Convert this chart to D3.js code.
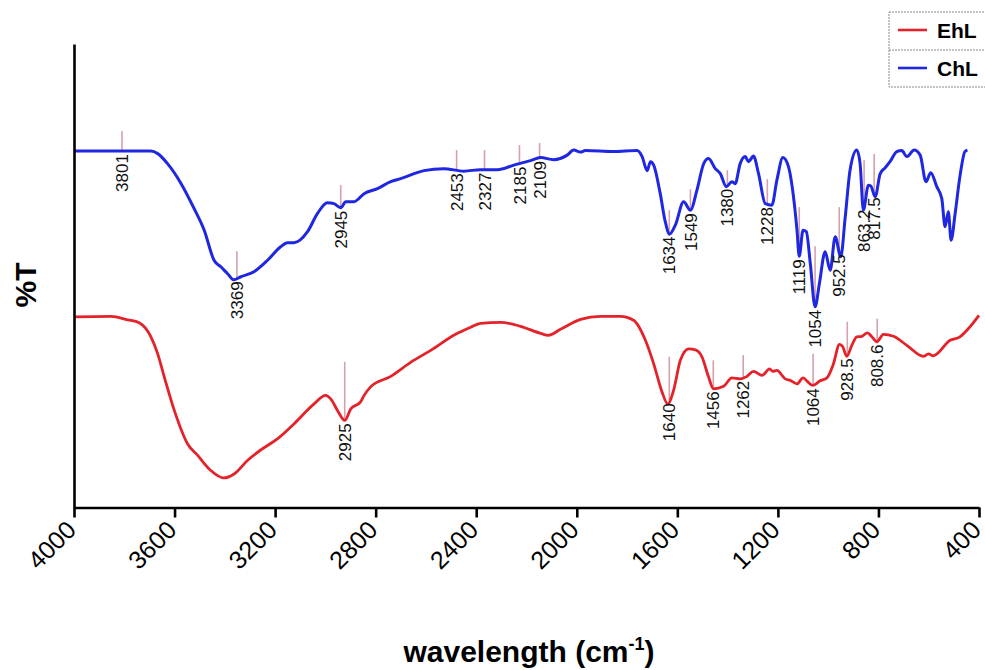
<!DOCTYPE html>
<html><head><meta charset="utf-8">
<script src="https://cdn.jsdelivr.net/npm/d3@7"></script>
<style>body{margin:0;background:#fff} svg{display:block}</style>
</head><body>
<svg id="chart" width="985" height="670"></svg>
<script>
// ---- data ----
const wnTicks = [4000,3600,3200,2800,2400,2000,1600,1200,800,400];
const seriesNames = ["EhL","ChL"];

const chlWn = [4000,3694,3667,3628,3575,3522,3482,3443,3416,3389,3365,3336,3284,3230,3178,3151,3125,3071,3032,2992,2966,2939,2919,2886,2846,2793,2740,2701,2608,2529,2449,2383,2316,2250,2184,2144,2092,2038,2012,1985,1966,1853,1760,1740,1720,1707,1694,1668,1648,1631,1608,1575,1548,1522,1495,1476,1449,1429,1405,1383,1370,1350,1330,1317,1297,1277,1250,1224,1204,1180,1158,1138,1124,1115,1100,1087,1071,1052,1035,1012,992,972,950,932,913,886,873,860,840,830,813,793,773,754,727,707,687,658,634,611,592,568,548,535,522,511,495,476,456,446];
const chlT = [71.2,71.2,70.7,68.7,64.8,59.7,55.4,49.4,48.1,46.7,45.5,46.1,47.1,49.4,52.1,52.9,52.9,55.1,58.7,60.9,60.7,59.9,61.1,61.1,62.7,63.7,65.1,65.7,67.3,67.7,67.2,67.5,67.5,68.4,69.3,69.9,69.5,70.4,71.4,71.0,71.3,71.1,71.3,70.1,67.3,69.1,68.4,62.7,57.1,54.6,56.4,61.1,59.4,63.4,68.7,69.7,67.7,66.7,64.1,65.1,64.7,68.7,70.1,69.1,70.2,66.7,60.7,60.4,65.4,69.9,68.1,62.1,55.4,50.2,55.4,55.1,48.7,40.1,44.7,51.1,47.4,54.1,50.1,58.1,67.4,71.4,68.7,59.4,64.4,64.2,62.1,66.7,67.9,69.1,71.1,71.3,70.1,71.4,70.4,65.1,66.9,64.1,61.7,56.1,59.1,53.4,58.7,66.1,71.1,71.4];

const ehlWn = [4000,3853,3787,3741,3694,3667,3641,3601,3548,3508,3456,3405,3363,3310,3257,3191,3125,3045,2999,2979,2952,2923,2899,2860,2846,2820,2740,2661,2581,2482,2422,2383,2303,2224,2144,2113,2065,1985,1906,1826,1774,1727,1694,1661,1638,1615,1588,1555,1528,1502,1476,1456,1416,1383,1350,1323,1297,1263,1233,1220,1204,1171,1151,1124,1100,1085,1061,1032,1005,979,955,942,926,906,886,866,844,826,806,780,740,687,621,601,582,515,476,436,400];
const ehlT = [38.1,38.2,37.5,36.9,34.1,30.7,26.1,19.4,12.7,10.4,7.4,5.9,6.7,9.4,11.5,13.7,16.7,20.7,22.4,21.7,19.4,17.4,19.7,21.1,22.4,24.1,26.2,29.0,31.4,34.6,36.0,36.8,37.0,36.2,34.8,34.4,35.6,37.6,38.2,38.2,37.4,33.4,28.7,23.1,20.7,23.4,29.4,31.7,31.5,30.1,26.1,23.7,24.2,25.9,25.7,26.2,27.2,26.4,27.7,27.2,27.4,25.7,25.4,24.7,25.9,25.3,24.4,25.3,25.9,28.7,32.6,32.1,30.2,32.4,34.1,34.2,34.9,34.1,33.1,34.6,34.2,32.4,30.2,30.7,30.3,33.4,34.1,36.1,38.4];

const chlPeakLabels = ["3801","3369","2945","2453","2327","2185","2109","1634","1549","1380","1228","1119","1054","952.5","863.2","817.5"];
const chlPeakAt  = [3809,3352,2939,2478,2367,2228,2148,1632,1548,1401,1242,1115,1052,956,857,817];
const chlPeakTop = [75.2,51.2,64.4,71.4,71.4,72.4,72.8,59.4,63.6,67.4,65.6,60.0,52.2,60.0,69.4,70.6];

const ehlPeakLabels = ["2925","1640","1456","1262","1064","928.5","808.6"];
const ehlPeakAt  = [2923,1632,1457,1338,1060,924,805];
const ehlPeakTop = [29.1,30.1,29.4,30.4,30.7,37.1,37.7];

// ---- drawing ----
const FONT = "'Liberation Sans', Arial, Helvetica, sans-serif";
const RED = "#e3222a", BLUE = "#1f27e0", MARK = "#d5a1aa";
const svg = d3.select("#chart");
const x = d3.scaleLinear().domain([4000, 400]).range([74, 979]);
const y = d3.scaleLinear().domain([0, 92.6]).range([507.5, 44]);

const zip = (a, b) => a.map((w, i) => ({w, t: b[i]}));
const chl = zip(chlWn, chlT), ehl = zip(ehlWn, ehlT);

function valueAt(data, w) {
  for (let i = 0; i < data.length - 1; i++) {
    const a = data[i], b = data[i + 1];
    if (w <= a.w && w >= b.w) {
      const f = (a.w - w) / (a.w - b.w);
      return a.t + f * (b.t - a.t);
    }
  }
  return data[data.length - 1].t;
}

const peaks = [
  {data: chl, labels: chlPeakLabels, at: chlPeakAt, top: chlPeakTop},
  {data: ehl, labels: ehlPeakLabels, at: ehlPeakAt, top: ehlPeakTop}
];

// marker lines
const gMarks = svg.append("g");
peaks.forEach(p => {
  p.labels.forEach((lab, i) => {
    const cx = x(p.at[i]);
    const cy = y(valueAt(p.data, p.at[i]));
    gMarks.append("line")
      .attr("x1", cx).attr("x2", cx)
      .attr("y1", y(p.top[i])).attr("y2", cy)
      .attr("stroke", MARK).attr("stroke-width", 1.6);
  });
});

// curves
const line = d3.line().x(d => x(d.w)).y(d => y(d.t)).curve(d3.curveMonotoneX);
svg.append("path").datum(ehl).attr("d", line)
  .attr("fill", "none").attr("stroke", RED).attr("stroke-width", 2.8).attr("stroke-linejoin", "round");
svg.append("path").datum(chl).attr("d", line)
  .attr("fill", "none").attr("stroke", BLUE).attr("stroke-width", 3).attr("stroke-linejoin", "round");

// peak labels
const gLab = svg.append("g");
peaks.forEach(p => {
  p.labels.forEach((lab, i) => {
    const cx = x(p.at[i]);
    const cy = y(valueAt(p.data, p.at[i])) + 3;
    gLab.append("text")
      .attr("transform", `translate(${cx},${cy}) rotate(-90)`)
      .attr("text-anchor", "end").attr("dy", "0.36em")
      .attr("font-family", FONT).attr("font-size", 17).attr("fill", "#111")
      .text(lab);
  });
});

// axes
const xAxis = d3.axisBottom(x).tickValues(wnTicks).tickSize(10).tickSizeOuter(0).tickFormat(d3.format("d"));
const gx = svg.append("g").attr("transform", `translate(0,${y(0)})`).call(xAxis);
gx.select(".domain").attr("stroke", "#000").attr("stroke-width", 2.6);
gx.selectAll(".tick line").attr("stroke", "#000").attr("stroke-width", 2.6);
gx.selectAll(".tick text")
  .attr("font-family", FONT).attr("font-size", 25).attr("fill", "#000")
  .attr("text-anchor", "end").attr("dy", null).attr("y", 0)
  .attr("transform", "translate(3,24) rotate(-45)");

const yAxis = d3.axisLeft(y).tickValues([]).tickSizeOuter(0);
const gy = svg.append("g").attr("transform", `translate(${x(4000)},0)`).call(yAxis);
gy.select(".domain").attr("stroke", "#000").attr("stroke-width", 2.6);

// axis titles
const xt = svg.append("text").attr("x", 529).attr("y", 662)
  .attr("text-anchor", "middle").attr("font-family", FONT)
  .attr("font-weight", "bold").attr("font-size", 30).attr("fill", "#000");
xt.append("tspan").text("wavelength (cm");
xt.append("tspan").attr("font-size", 18).attr("dy", -12).text("-1");
xt.append("tspan").attr("font-size", 30).attr("dy", 12).text(")");

svg.append("text").attr("transform", "translate(36,285) rotate(-90)")
  .attr("text-anchor", "middle").attr("font-family", FONT)
  .attr("font-weight", "bold").attr("font-size", 30).attr("fill", "#000")
  .text("%T");

// legend
const lg = svg.append("g");
lg.append("rect").attr("x", 889).attr("y", 12).attr("width", 110).attr("height", 75)
  .attr("fill", "#fff").attr("stroke", "#888").attr("stroke-width", 1).attr("stroke-dasharray", "2,1");
lg.append("line").attr("x1", 889).attr("x2", 999).attr("y1", 50).attr("y2", 50)
  .attr("stroke", "#888").attr("stroke-width", 1).attr("stroke-dasharray", "2,1");
const legColors = [RED, BLUE];
seriesNames.forEach((name, i) => {
  const cy = 30 + i * 38;
  lg.append("line").attr("x1", 898).attr("x2", 927).attr("y1", cy).attr("y2", cy)
    .attr("stroke", legColors[i]).attr("stroke-width", 2.6);
  lg.append("text").attr("x", 937).attr("y", cy + 8)
    .attr("font-family", FONT).attr("font-weight", "bold").attr("font-size", 21).attr("fill", "#000")
    .text(name);
});
</script>
</body></html>
